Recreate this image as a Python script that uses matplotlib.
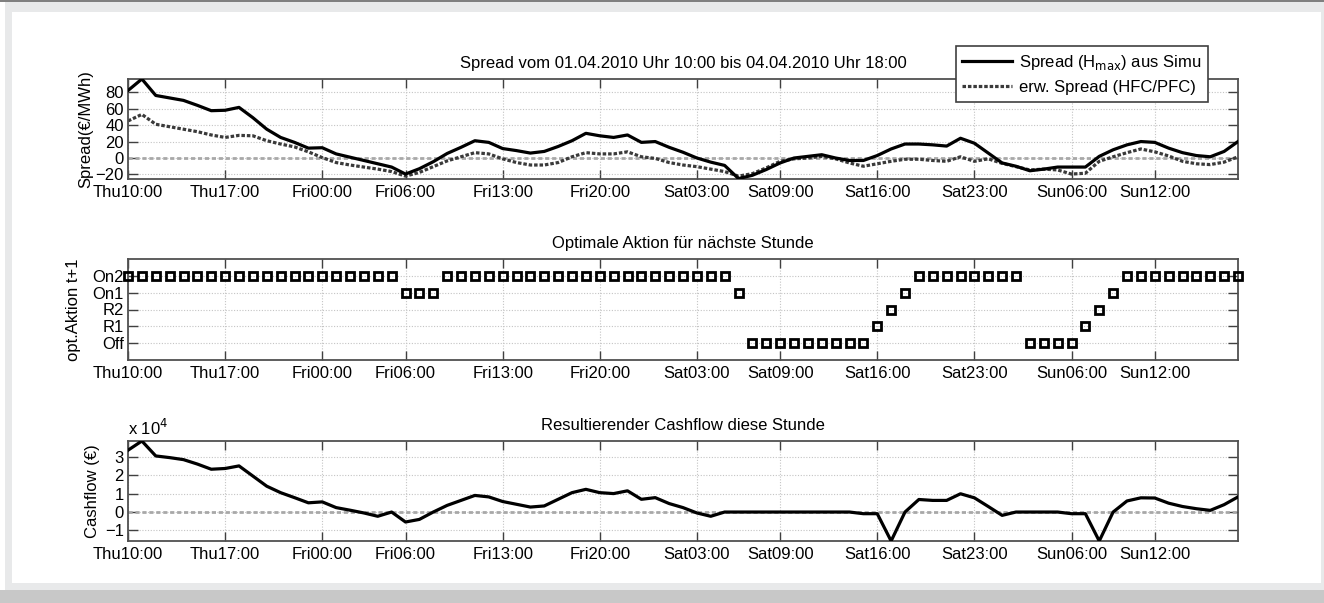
import matplotlib
matplotlib.use('Agg')
import matplotlib.pyplot as plt
from matplotlib.patches import Rectangle

plt.rcParams['font.family'] = ['Liberation Sans', 'DejaVu Sans']

# hourly values from Thu 10:00 to Sun 18:00
hours = list(range(81))
tick_hours = [0, 7, 14, 20, 27, 34, 41, 47, 54, 61, 68, 74]
tick_labels = ['Thu10:00', 'Thu17:00', 'Fri00:00', 'Fri06:00', 'Fri13:00', 'Fri20:00',
               'Sat03:00', 'Sat09:00', 'Sat16:00', 'Sat23:00', 'Sun06:00', 'Sun12:00']

spread_sim = [82, 96, 76, 73, 70, 64, 57.5, 58, 61.5, 49,
              35, 25, 19, 12, 12.5, 5, 1, -3, -7, -11,
              -19.5, -13, -4.5, 5.5, 13, 21, 19, 11.5, 9, 6,
              8, 14, 21, 30, 27, 25, 28, 19, 20, 13,
              7, 0, -5, -9, -25, -21, -14, -6, 0, 2,
              4, 0, -3, -3, 3, 11, 17, 17, 16, 14.5,
              24, 18, 6, -6, -10, -15.5, -13.5, -11, -11, -11,
              2, 10, 16, 20, 19, 12, 6.5, 3, 1.5, 8,
              20]
spread_erw = [45, 53, 41, 38, 35, 32, 28, 25, 27.5, 27,
              21, 17, 13.5, 7.5, 0.5, -5.5, -8.5, -11, -13.5, -16.5,
              -22, -17.5, -10.5, -3.5, 1.5, 6.5, 5, -1, -5.5, -8.5,
              -8.5, -5.5, 1.5, 6.5, 5, 5, 7.5, 1.5, -0.5, -5.5,
              -8.5, -10.5, -13.5, -16.5, -22, -19, -12, -4, -1, 0,
              2, -1, -6, -10, -7, -4, -1.5, -1.5, -3, -4,
              1.5, -4, -1, -6.5, -10.5, -14.5, -13.5, -14.5, -19.5, -18.5,
              -4, 1.5, 6.5, 11, 7.5, 2.5, -4, -7, -8, -5,
              1.5]

action_names = ['Off', 'R1', 'R2', 'On1', 'On2']
# 1=Off ... 5=On2
action = [5, 5, 5, 5, 5, 5, 5, 5, 5, 5,
          5, 5, 5, 5, 5, 5, 5, 5, 5, 5,
          4, 4, 4, 5, 5, 5, 5, 5, 5, 5,
          5, 5, 5, 5, 5, 5, 5, 5, 5, 5,
          5, 5, 5, 5, 4, 1, 1, 1, 1, 1,
          1, 1, 1, 1, 2, 3, 4, 5, 5, 5,
          5, 5, 5, 5, 5, 1, 1, 1, 1, 2,
          3, 4, 5, 5, 5, 5, 5, 5, 5, 5,
          5]

# cashflow in units of 10^4 EUR
cashflow = [3.35, 3.85, 3.04, 2.95, 2.84, 2.6, 2.32, 2.36, 2.5, 1.95,
            1.4, 1.05, 0.78, 0.5, 0.55, 0.24, 0.1, -0.05, -0.23, 0,
            -0.54, -0.4, 0, 0.36, 0.63, 0.9, 0.82, 0.57, 0.42, 0.27,
            0.33, 0.69, 1.05, 1.23, 1.05, 1.0, 1.15, 0.69, 0.78, 0.46,
            0.24, -0.05, -0.23, 0, 0, 0, 0, 0, 0, 0,
            0, 0, 0, -0.09, -0.09, -1.57, 0, 0.68, 0.63, 0.63,
            0.99, 0.77, 0.3, -0.18, 0, 0, 0, 0, -0.09, -0.09,
            -1.57, 0, 0.6, 0.77, 0.76, 0.48, 0.3, 0.18, 0.09, 0.4,
            0.82]

W, H = 1324, 603
fig = plt.figure(figsize=(W / 100, H / 100), dpi=100)
fig.patch.set_facecolor('white')

# page frame
fig.patches.append(Rectangle((5 / W, 13 / H), 1319 / W, 588 / H, transform=fig.transFigure,
                             facecolor='#e8e9ea', edgecolor='none', zorder=-3))
fig.patches.append(Rectangle((12 / W, 20 / H), 1309 / W, 571 / H, transform=fig.transFigure,
                             facecolor='white', edgecolor='none', zorder=-2))
fig.patches.append(Rectangle((0, 1 - 2 / H), 1, 2 / H, transform=fig.transFigure,
                             facecolor='#808080', edgecolor='none', zorder=-2))
fig.patches.append(Rectangle((0, 0), 1, 13 / H, transform=fig.transFigure,
                             facecolor='#c8c8c8', edgecolor='none', zorder=-2))

left = 128 / W
width = 1110 / W
ax1 = fig.add_axes([left, 1 - 179 / H, width, 100 / H])
ax2 = fig.add_axes([left, 1 - 360 / H, width, 101 / H])
ax3 = fig.add_axes([left, 1 - 541 / H, width, 100 / H])

fs = 12
for ax in (ax1, ax2, ax3):
    ax.set_xlim(0, 80)
    ax.set_xticks(tick_hours)
    ax.set_xticklabels(tick_labels, fontsize=fs)
    ax.tick_params(axis='x', direction='in', top=True, bottom=True, length=6.5,
                   width=1, color='#404040', pad=4)
    ax.tick_params(axis='y', direction='in', left=True, right=True, length=7.5,
                   width=1, color='#404040', pad=3, labelsize=fs)
    ax.grid(True, linestyle=(0, (1, 1.5)), color='#c4c4c4', linewidth=0.8)
    ax.set_axisbelow(True)
    for s in ax.spines.values():
        s.set_color('#505050')
        s.set_linewidth(1.3)

# top: spread
ax1.axhline(0, color='#a8a8a8', linewidth=2, linestyle=(0, (1.5, 1)), zorder=1)
ax1.plot(hours, spread_sim, color='black', linewidth=2.3,
         label='Spread (H$_{\\mathrm{max}}$) aus Simu', zorder=3)
ax1.plot(hours, spread_erw, color='#3a3a3a', linewidth=2.3, linestyle=(0, (1.1, 0.6)),
         label='erw. Spread (HFC/PFC)', zorder=2)
ax1.set_ylim(-25.5, 96)
ax1.set_yticks([-20, 0, 20, 40, 60, 80])
ax1.set_ylabel('Spread(€/MWh)', fontsize=fs)
ax1.yaxis.set_label_coords(-0.031, 0.5)
ax1.set_title('Spread vom 01.04.2010 Uhr 10:00 bis 04.04.2010 Uhr 18:00', fontsize=fs, pad=8)
leg = ax1.legend(loc='upper right', bbox_to_anchor=(1208 / W, 1 - 46 / H),
                 bbox_transform=fig.transFigure, fontsize=fs, fancybox=False,
                 edgecolor='#404040', framealpha=1, borderaxespad=0,
                 handlelength=3.0, handletextpad=0.4, labelspacing=0.5,
                 borderpad=0.4)
leg.get_frame().set_linewidth(1.2)
leg.set_zorder(10)

# middle: optimal action
ax2.plot(hours, action, linestyle='none', marker='s', markersize=5.3,
         markerfacecolor='none', markeredgecolor='black', markeredgewidth=2.0,
         clip_on=False, zorder=3)
ax2.set_ylim(0, 6)
ax2.set_yticks([1, 2, 3, 4, 5])
ax2.set_yticklabels(action_names)
ax2.set_ylabel('opt.Aktion t+1', fontsize=fs)
ax2.yaxis.set_label_coords(-0.042, 0.5)
ax2.set_title('Optimale Aktion für nächste Stunde', fontsize=fs, pad=8)

# bottom: cashflow
ax3.axhline(0, color='#a8a8a8', linewidth=2, linestyle=(0, (1.5, 1)), zorder=1)
ax3.plot(hours, cashflow, color='black', linewidth=2.3, zorder=3)
ax3.set_ylim(-1.57, 3.85)
ax3.set_yticks([-1, 0, 1, 2, 3])
ax3.set_ylabel('Cashflow (€)', fontsize=fs)
ax3.yaxis.set_label_coords(-0.025, 0.5)
ax3.set_title('Resultierender Cashflow diese Stunde', fontsize=fs, pad=8)
ax3.text(0, 1.03, 'x 10$^4$', transform=ax3.transAxes, fontsize=fs, va='bottom', ha='left')

fig.savefig('out.png', dpi=100)
